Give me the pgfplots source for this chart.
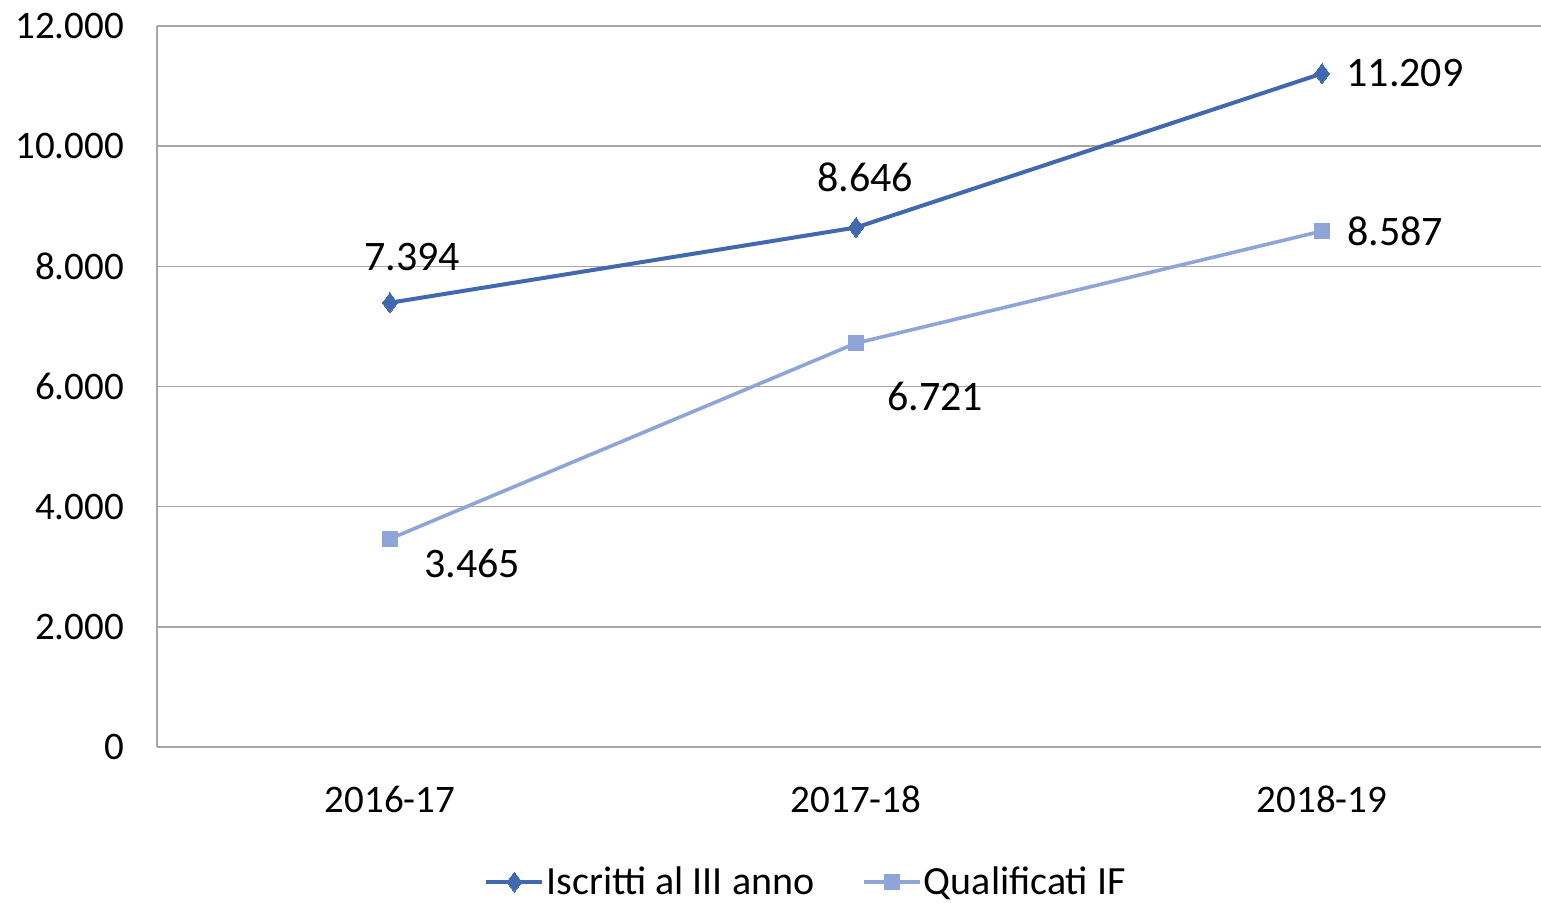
\documentclass[border=0pt]{standalone}
\usepackage{pgfplots}
\pgfplotsset{compat=1.18}
\usepackage{fontspec}
\setmainfont{Carlito}
\definecolor{sA}{HTML}{4169B0}
\definecolor{sB}{HTML}{8FA4D8}
\definecolor{gridc}{HTML}{A6A6A6}
\begin{document}
\begin{tikzpicture}
\path[use as bounding box] (-78.5pt,-77.5pt) rectangle (692pt,373.5pt);
\begin{axis}[
  scale only axis, width=692pt, height=360.5pt,
  xmin=-0.5, xmax=2.47, ymin=0, ymax=12000,
  scaled y ticks=false,
  xtick={0,1,2}, xticklabels={2016-17,2017-18,2018-19},
  ytick={0,2000,4000,6000,8000,10000,12000},
  yticklabels={0,2.000,4.000,6.000,8.000,10.000,12.000},
  axis x line*=bottom, axis y line*=left,
  axis line style={gridc, line width=0.7pt},
  ymajorgrids, grid style={gridc, line width=0.7pt},
  major tick length=0pt,
  tick label style={font=\fontsize{19.5}{21}\selectfont},
  yticklabel style={xshift=-13pt},
  xticklabel style={yshift=-16pt},
  legend style={at={(0.469,0)}, anchor=center, yshift=-67.5pt, draw=none,
    font=\fontsize{20}{22}\selectfont, legend columns=2,
    nodes={inner xsep=1pt},
    /tikz/every even column/.append style={column sep=23pt}},
  legend cell align=left,
  legend image code/.code={
    \draw[#1] (0pt,0pt) -- (28pt,0pt);
    \draw[#1, only marks] plot coordinates {(14pt,0pt)};
  },
]
\addplot[sA, line width=2pt, mark=diamond*, mark size=5pt, mark options={solid, line width=0pt}] coordinates {(0,7394) (1,8646) (2,11209)};
\addlegendentry{Iscritti al III anno}
\addplot[sB, line width=1.8pt, mark=square*, mark size=3.8pt, mark options={solid, line width=0pt}] coordinates {(0,3465) (1,6721) (2,8587)};
\addlegendentry{Qualificati IF}
\begin{scope}[every node/.style={font=\fontsize{21}{23}\selectfont, anchor=center}]
\node[xshift=11pt, yshift=23pt] at (axis cs:0,7394) {7.394};
\node[xshift=4.5pt, yshift=25pt] at (axis cs:1,8646) {8.646};
\node[xshift=41.5pt, yshift=0pt] at (axis cs:2,11209) {11.209};
\node[xshift=41pt, yshift=-12.5pt] at (axis cs:0,3465) {3.465};
\node[xshift=39.5pt, yshift=-26.5pt] at (axis cs:1,6721) {6.721};
\node[xshift=36.5pt, yshift=0pt] at (axis cs:2,8587) {8.587};
\end{scope}
\end{axis}
\end{tikzpicture}
\end{document}
